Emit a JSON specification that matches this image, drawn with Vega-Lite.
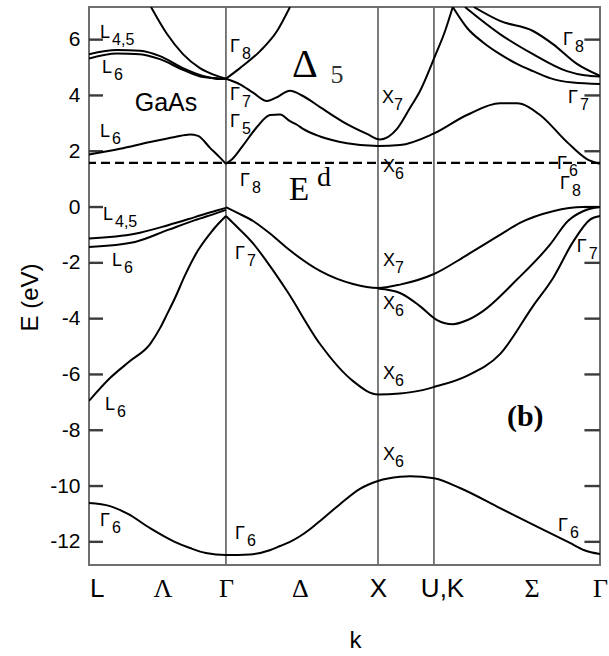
{
  "$schema": "https://vega.github.io/schema/vega-lite/v6.json",
  "width": 511,
  "height": 558,
  "autosize": {"type": "none"},
  "padding": {"left": 89, "top": 7, "right": 9, "bottom": 91},
  "background": "white",
  "config": {"view": {"stroke": "#6e6e6e", "strokeWidth": 2}, "axis": {"grid": false}},
  "resolve": {"axis": {"x": "independent", "y": "independent"}},
  "datasets": {
    "kpoints": [{"k": 0.879}, {"k": 1.855}, {"k": 2.214}],
    "ed": [{"E": 1.58}],
    "ticks": [
      {"t": "l-12", "k": 0, "E": -12}, {"t": "l-12", "k": 0.09, "E": -12},
      {"t": "l-10", "k": 0, "E": -10}, {"t": "l-10", "k": 0.09, "E": -10},
      {"t": "l-8", "k": 0, "E": -8}, {"t": "l-8", "k": 0.09, "E": -8},
      {"t": "l-6", "k": 0, "E": -6}, {"t": "l-6", "k": 0.09, "E": -6},
      {"t": "l-4", "k": 0, "E": -4}, {"t": "l-4", "k": 0.09, "E": -4},
      {"t": "l-2", "k": 0, "E": -2}, {"t": "l-2", "k": 0.09, "E": -2},
      {"t": "l0", "k": 0, "E": 0}, {"t": "l0", "k": 0.09, "E": 0},
      {"t": "l2", "k": 0, "E": 2}, {"t": "l2", "k": 0.09, "E": 2},
      {"t": "l4", "k": 0, "E": 4}, {"t": "l4", "k": 0.09, "E": 4},
      {"t": "l6", "k": 0, "E": 6}, {"t": "l6", "k": 0.09, "E": 6},
      {"t": "r-12", "k": 3.18, "E": -12}, {"t": "r-12", "k": 3.28, "E": -12},
      {"t": "r-10", "k": 3.18, "E": -10}, {"t": "r-10", "k": 3.28, "E": -10},
      {"t": "r-8", "k": 3.18, "E": -8}, {"t": "r-8", "k": 3.28, "E": -8},
      {"t": "r-6", "k": 3.18, "E": -6}, {"t": "r-6", "k": 3.28, "E": -6},
      {"t": "r-4", "k": 3.18, "E": -4}, {"t": "r-4", "k": 3.28, "E": -4},
      {"t": "r-2", "k": 3.18, "E": -2}, {"t": "r-2", "k": 3.28, "E": -2},
      {"t": "r0", "k": 3.18, "E": 0}, {"t": "r0", "k": 3.28, "E": 0},
      {"t": "r2", "k": 3.18, "E": 2}, {"t": "r2", "k": 3.28, "E": 2},
      {"t": "r4", "k": 3.18, "E": 4}, {"t": "r4", "k": 3.28, "E": 4},
      {"t": "r6", "k": 3.18, "E": 6}, {"t": "r6", "k": 3.28, "E": 6}
    ],
    "bands": [
      {"band": "b1", "k": 0, "E": -10.61}, {"band": "b1", "k": 0.135, "E": -10.72}, {"band": "b1", "k": 0.25, "E": -11.0}, {"band": "b1", "k": 0.392, "E": -11.51}, {"band": "b1", "k": 0.55, "E": -12.0}, {"band": "b1", "k": 0.648, "E": -12.22}, {"band": "b1", "k": 0.75, "E": -12.4}, {"band": "b1", "k": 0.879, "E": -12.47}, {"band": "b1", "k": 1.033, "E": -12.45}, {"band": "b1", "k": 1.16, "E": -12.3}, {"band": "b1", "k": 1.226, "E": -12.15}, {"band": "b1", "k": 1.29, "E": -12.0}, {"band": "b1", "k": 1.354, "E": -11.8}, {"band": "b1", "k": 1.418, "E": -11.55}, {"band": "b1", "k": 1.483, "E": -11.25}, {"band": "b1", "k": 1.611, "E": -10.65}, {"band": "b1", "k": 1.739, "E": -10.1}, {"band": "b1", "k": 1.855, "E": -9.82}, {"band": "b1", "k": 1.996, "E": -9.67}, {"band": "b1", "k": 2.06, "E": -9.65}, {"band": "b1", "k": 2.214, "E": -9.72}, {"band": "b1", "k": 2.381, "E": -10.07}, {"band": "b1", "k": 2.638, "E": -10.79}, {"band": "b1", "k": 2.895, "E": -11.51}, {"band": "b1", "k": 3.087, "E": -12.04}, {"band": "b1", "k": 3.18, "E": -12.3}, {"band": "b1", "k": 3.28, "E": -12.44},

      {"band": "b2L", "k": 0, "E": -6.95}, {"band": "b2L", "k": 0.135, "E": -6.13}, {"band": "b2L", "k": 0.263, "E": -5.52}, {"band": "b2L", "k": 0.392, "E": -4.91}, {"band": "b2L", "k": 0.456, "E": -4.34}, {"band": "b2L", "k": 0.501, "E": -3.84}, {"band": "b2L", "k": 0.552, "E": -3.26}, {"band": "b2L", "k": 0.616, "E": -2.45}, {"band": "b2L", "k": 0.7, "E": -1.55}, {"band": "b2L", "k": 0.777, "E": -0.95}, {"band": "b2L", "k": 0.83, "E": -0.6}, {"band": "b2L", "k": 0.879, "E": -0.32},

      {"band": "b2R", "k": 0.879, "E": -0.32}, {"band": "b2R", "k": 0.93, "E": -0.6}, {"band": "b2R", "k": 1.053, "E": -1.3}, {"band": "b2R", "k": 1.16, "E": -2.1}, {"band": "b2R", "k": 1.271, "E": -3.01}, {"band": "b2R", "k": 1.483, "E": -4.91}, {"band": "b2R", "k": 1.695, "E": -6.24}, {"band": "b2R", "k": 1.855, "E": -6.72}, {"band": "b2R", "k": 1.996, "E": -6.68}, {"band": "b2R", "k": 2.124, "E": -6.58}, {"band": "b2R", "k": 2.214, "E": -6.45}, {"band": "b2R", "k": 2.426, "E": -6.05}, {"band": "b2R", "k": 2.638, "E": -5.27}, {"band": "b2R", "k": 2.85, "E": -3.55}, {"band": "b2R", "k": 2.978, "E": -2.55}, {"band": "b2R", "k": 3.107, "E": -1.25}, {"band": "b2R", "k": 3.216, "E": -0.45}, {"band": "b2R", "k": 3.28, "E": -0.32},

      {"band": "b3L", "k": 0, "E": -1.13}, {"band": "b3L", "k": 0.295, "E": -0.96}, {"band": "b3L", "k": 0.507, "E": -0.65}, {"band": "b3L", "k": 0.68, "E": -0.36}, {"band": "b3L", "k": 0.809, "E": -0.14}, {"band": "b3L", "k": 0.879, "E": -0.03},

      {"band": "b4L", "k": 0, "E": -1.43}, {"band": "b4L", "k": 0.295, "E": -1.25}, {"band": "b4L", "k": 0.507, "E": -0.82}, {"band": "b4L", "k": 0.68, "E": -0.47}, {"band": "b4L", "k": 0.828, "E": -0.2}, {"band": "b4L", "k": 0.879, "E": -0.1},

      {"band": "b3R", "k": 0.879, "E": 0}, {"band": "b3R", "k": 0.95, "E": -0.2}, {"band": "b3R", "k": 1.053, "E": -0.5}, {"band": "b3R", "k": 1.162, "E": -0.95}, {"band": "b3R", "k": 1.271, "E": -1.47}, {"band": "b3R", "k": 1.483, "E": -2.29}, {"band": "b3R", "k": 1.695, "E": -2.76}, {"band": "b3R", "k": 1.855, "E": -2.9}, {"band": "b3R", "k": 1.996, "E": -2.78}, {"band": "b3R", "k": 2.214, "E": -2.4}, {"band": "b3R", "k": 2.426, "E": -1.72}, {"band": "b3R", "k": 2.638, "E": -1.0}, {"band": "b3R", "k": 2.766, "E": -0.57}, {"band": "b3R", "k": 2.978, "E": -0.15}, {"band": "b3R", "k": 3.171, "E": 0}, {"band": "b3R", "k": 3.28, "E": 0},

      {"band": "b5R", "k": 1.855, "E": -2.92}, {"band": "b5R", "k": 1.93, "E": -2.98}, {"band": "b5R", "k": 1.996, "E": -3.08}, {"band": "b5R", "k": 2.124, "E": -3.55}, {"band": "b5R", "k": 2.234, "E": -4.05}, {"band": "b5R", "k": 2.336, "E": -4.2}, {"band": "b5R", "k": 2.43, "E": -4.05}, {"band": "b5R", "k": 2.529, "E": -3.73}, {"band": "b5R", "k": 2.747, "E": -2.6}, {"band": "b5R", "k": 2.959, "E": -1.35}, {"band": "b5R", "k": 3.074, "E": -0.5}, {"band": "b5R", "k": 3.171, "E": -0.15}, {"band": "b5R", "k": 3.28, "E": 0},

      {"band": "c1L", "k": 0, "E": 1.88}, {"band": "c1L", "k": 0.199, "E": 2.09}, {"band": "c1L", "k": 0.392, "E": 2.33}, {"band": "c1L", "k": 0.552, "E": 2.51}, {"band": "c1L", "k": 0.648, "E": 2.6}, {"band": "c1L", "k": 0.7, "E": 2.55}, {"band": "c1L", "k": 0.777, "E": 2.12}, {"band": "c1L", "k": 0.841, "E": 1.77}, {"band": "c1L", "k": 0.879, "E": 1.55},

      {"band": "c1R", "k": 0.879, "E": 1.55}, {"band": "c1R", "k": 0.92, "E": 1.72}, {"band": "c1R", "k": 0.988, "E": 2.2}, {"band": "c1R", "k": 1.078, "E": 2.87}, {"band": "c1R", "k": 1.162, "E": 3.3}, {"band": "c1R", "k": 1.226, "E": 3.32}, {"band": "c1R", "k": 1.29, "E": 3.08}, {"band": "c1R", "k": 1.335, "E": 2.95}, {"band": "c1R", "k": 1.374, "E": 2.8}, {"band": "c1R", "k": 1.483, "E": 2.53}, {"band": "c1R", "k": 1.656, "E": 2.29}, {"band": "c1R", "k": 1.855, "E": 2.19}, {"band": "c1R", "k": 1.996, "E": 2.22}, {"band": "c1R", "k": 2.208, "E": 2.62}, {"band": "c1R", "k": 2.426, "E": 3.3}, {"band": "c1R", "k": 2.638, "E": 3.72}, {"band": "c1R", "k": 2.747, "E": 3.72}, {"band": "c1R", "k": 2.895, "E": 3.3}, {"band": "c1R", "k": 3.068, "E": 2.33}, {"band": "c1R", "k": 3.196, "E": 1.72}, {"band": "c1R", "k": 3.28, "E": 1.55},

      {"band": "c2", "k": 0.879, "E": 4.6}, {"band": "c2", "k": 0.969, "E": 4.4}, {"band": "c2", "k": 1.053, "E": 4.1}, {"band": "c2", "k": 1.142, "E": 3.8}, {"band": "c2", "k": 1.2, "E": 3.92}, {"band": "c2", "k": 1.29, "E": 4.17}, {"band": "c2", "k": 1.374, "E": 3.98}, {"band": "c2", "k": 1.483, "E": 3.58}, {"band": "c2", "k": 1.656, "E": 2.97}, {"band": "c2", "k": 1.784, "E": 2.62}, {"band": "c2", "k": 1.868, "E": 2.42}, {"band": "c2", "k": 1.977, "E": 2.8}, {"band": "c2", "k": 2.06, "E": 3.55}, {"band": "c2", "k": 2.124, "E": 4.15}, {"band": "c2", "k": 2.22, "E": 5.4}, {"band": "c2", "k": 2.285, "E": 6.3}, {"band": "c2", "k": 2.335, "E": 7.17},

      {"band": "cA", "k": 2.335, "E": 7.17}, {"band": "cA", "k": 2.43, "E": 6.4}, {"band": "cA", "k": 2.53, "E": 5.9}, {"band": "cA", "k": 2.638, "E": 5.48}, {"band": "cA", "k": 2.747, "E": 5.13}, {"band": "cA", "k": 2.85, "E": 4.87}, {"band": "cA", "k": 2.959, "E": 4.62}, {"band": "cA", "k": 3.107, "E": 4.46}, {"band": "cA", "k": 3.28, "E": 4.41},

      {"band": "cB", "k": 2.413, "E": 7.17}, {"band": "cB", "k": 2.638, "E": 6.2}, {"band": "cB", "k": 2.85, "E": 5.48}, {"band": "cB", "k": 3.068, "E": 4.87}, {"band": "cB", "k": 3.18, "E": 4.72}, {"band": "cB", "k": 3.28, "E": 4.68},

      {"band": "cC", "k": 2.47, "E": 7.17}, {"band": "cC", "k": 2.638, "E": 6.67}, {"band": "cC", "k": 2.85, "E": 6.31}, {"band": "cC", "k": 2.978, "E": 5.84}, {"band": "cC", "k": 3.132, "E": 5.13}, {"band": "cC", "k": 3.28, "E": 4.7},

      {"band": "cD", "k": 0.879, "E": 4.6}, {"band": "cD", "k": 0.969, "E": 4.98}, {"band": "cD", "k": 1.098, "E": 5.59}, {"band": "cD", "k": 1.207, "E": 6.31}, {"band": "cD", "k": 1.29, "E": 7.17},

      {"band": "cE", "k": 0.398, "E": 7.17}, {"band": "cE", "k": 0.501, "E": 6.2}, {"band": "cE", "k": 0.603, "E": 5.48}, {"band": "cE", "k": 0.712, "E": 4.98}, {"band": "cE", "k": 0.822, "E": 4.7}, {"band": "cE", "k": 0.879, "E": 4.6},

      {"band": "cF", "k": 0, "E": 5.48}, {"band": "cF", "k": 0.18, "E": 5.63}, {"band": "cF", "k": 0.327, "E": 5.6}, {"band": "cF", "k": 0.456, "E": 5.41}, {"band": "cF", "k": 0.603, "E": 4.98}, {"band": "cF", "k": 0.732, "E": 4.7}, {"band": "cF", "k": 0.841, "E": 4.59}, {"band": "cF", "k": 0.879, "E": 4.6},

      {"band": "cG", "k": 0, "E": 5.32}, {"band": "cG", "k": 0.18, "E": 5.5}, {"band": "cG", "k": 0.327, "E": 5.48}, {"band": "cG", "k": 0.456, "E": 5.3}, {"band": "cG", "k": 0.603, "E": 4.92}, {"band": "cG", "k": 0.732, "E": 4.66}, {"band": "cG", "k": 0.879, "E": 4.6}
    ],
    "labels": [
      {"k": 0.071, "E": 6.24, "main": "L", "sub": "4,5"},
      {"k": 0.083, "E": 4.98, "main": "L", "sub": "6"},
      {"k": 0.071, "E": 2.69, "main": "L", "sub": "6"},
      {"k": 0.09, "E": -0.29, "main": "L", "sub": "4,5"},
      {"k": 0.148, "E": -1.94, "main": "L", "sub": "6"},
      {"k": 0.103, "E": -7.1, "main": "L", "sub": "6"},
      {"k": 0.071, "E": -11.25, "main": "Γ", "sub": "6"},
      {"k": 0.937, "E": -11.72, "main": "Γ", "sub": "6"},
      {"k": 1.887, "E": -8.89, "main": "X", "sub": "6"},
      {"k": 3.01, "E": -11.43, "main": "Γ", "sub": "6"},
      {"k": 3.13, "E": -1.43, "main": "Γ", "sub": "7"},
      {"k": 1.887, "E": -1.94, "main": "X", "sub": "7"},
      {"k": 1.887, "E": -3.48, "main": "X", "sub": "6"},
      {"k": 1.887, "E": -5.99, "main": "X", "sub": "6"},
      {"k": 0.937, "E": -1.68, "main": "Γ", "sub": "7"},
      {"k": 0.905, "E": 5.73, "main": "Γ", "sub": "8"},
      {"k": 0.905, "E": 4.03, "main": "Γ", "sub": "7"},
      {"k": 0.905, "E": 3.05, "main": "Γ", "sub": "5"},
      {"k": 0.969, "E": 0.93, "main": "Γ", "sub": "8"},
      {"k": 1.88, "E": 3.91, "main": "X", "sub": "7"},
      {"k": 1.887, "E": 1.43, "main": "X", "sub": "6"},
      {"k": 3.042, "E": 5.99, "main": "Γ", "sub": "8"},
      {"k": 3.074, "E": 3.91, "main": "Γ", "sub": "7"},
      {"k": 3.004, "E": 1.54, "main": "Γ", "sub": "6"},
      {"k": 3.023, "E": 0.82, "main": "Γ", "sub": "8"}
    ]
  },
  "layer": [
    {
      "data": {"name": "kpoints"},
      "mark": {"type": "rule", "color": "#6e6e6e", "strokeWidth": 1.8},
      "encoding": {
        "x": {
          "field": "k", "type": "quantitative",
          "scale": {"domain": [0, 3.28], "nice": false, "zero": false},
          "axis": {
            "values": [0.05, 0.472, 0.879, 1.354, 1.855, 2.266, 2.84, 3.28],
            "labelExpr": "datum.value < 0.1 ? 'L' : datum.value < 0.6 ? 'Λ' : datum.value < 1 ? 'Γ' : datum.value < 1.5 ? 'Δ' : datum.value < 2 ? 'X' : datum.value < 2.5 ? 'U,K' : datum.value < 3 ? 'Σ' : 'Γ'",
            "ticks": false, "domain": false, "grid": false,
            "labelFontSize": 26,
            "labelFont": {"condition": {"test": "datum.value < 0.1 || (datum.value > 1.8 && datum.value < 2.5)", "value": "Liberation Sans"}, "value": "Liberation Serif"},
            "labelColor": "black", "labelPadding": 10, "labelAngle": 0,
            "labelOverlap": false, "labelFlush": false, "labelBound": false,
            "title": "k", "titleFont": "Liberation Sans", "titleFontSize": 24, "titleFontWeight": "normal", "titleColor": "black",
            "titleX": 266, "titleY": 75, "titleBaseline": "middle", "titleAlign": "center"
          }
        }
      }
    },
    {
      "data": {"name": "ed"},
      "mark": {"type": "rule", "color": "black", "strokeWidth": 2.2, "strokeDash": [9, 5]},
      "encoding": {
        "y": {"field": "E", "type": "quantitative", "axis": null}
      }
    },
    {
      "data": {"name": "ticks"},
      "mark": {"type": "line", "color": "#3c3c3c", "strokeWidth": 2.4, "interpolate": "linear"},
      "encoding": {
        "x": {"field": "k", "type": "quantitative", "axis": null},
        "y": {"field": "E", "type": "quantitative", "axis": null},
        "detail": {"field": "t", "type": "nominal"}
      }
    },
    {
      "data": {"name": "bands"},
      "mark": {"type": "line", "color": "black", "strokeWidth": 2, "interpolate": "monotone", "clip": true},
      "encoding": {
        "x": {"field": "k", "type": "quantitative", "axis": null},
        "y": {
          "field": "E", "type": "quantitative",
          "scale": {"domain": [-12.83, 7.17], "nice": false, "zero": false},
          "axis": {
            "orient": "left", "values": [-12, -10, -8, -6, -4, -2, 0, 2, 4, 6],
            "labelExpr": "datum.value + ''",
            "domain": false, "grid": false, "ticks": false,
            "labelPadding": 9, "labelFont": "Liberation Sans", "labelFontSize": 21, "labelColor": "black",
            "labelOverlap": false, "labelFlush": false,
            "title": "E (eV)", "titleFont": "Liberation Sans", "titleFontSize": 24, "titleFontWeight": "normal", "titleColor": "black",
            "titleX": -59, "titleY": 290, "titleAngle": -90, "titleBaseline": "middle", "titleAlign": "center"
          }
        },
        "detail": {"field": "band", "type": "nominal"}
      }
    },
    {
      "data": {"name": "labels"},
      "mark": {"type": "text", "align": "left", "baseline": "middle", "font": "Liberation Sans", "fontSize": 18, "color": "black"},
      "encoding": {
        "x": {"field": "k", "type": "quantitative", "axis": null},
        "y": {"field": "E", "type": "quantitative", "axis": null},
        "text": {"field": "main"}
      }
    },
    {
      "data": {"name": "labels"},
      "mark": {"type": "text", "align": "left", "baseline": "middle", "font": "Liberation Sans", "fontSize": 16, "color": "black", "dx": 12, "dy": 7},
      "encoding": {
        "x": {"field": "k", "type": "quantitative", "axis": null},
        "y": {"field": "E", "type": "quantitative", "axis": null},
        "text": {"field": "sub"}
      }
    },
    {
      "data": {"values": [{"k": 0.494, "E": 3.73, "t": "GaAs"}]},
      "mark": {"type": "text", "align": "center", "baseline": "middle", "font": "Liberation Sans", "fontSize": 25, "color": "black"},
      "encoding": {"x": {"field": "k", "type": "quantitative", "axis": null}, "y": {"field": "E", "type": "quantitative", "axis": null}, "text": {"field": "t"}}
    },
    {
      "data": {"values": [{"k": 1.386, "E": 5.09, "t": "Δ"}]},
      "mark": {"type": "text", "align": "center", "baseline": "middle", "font": "Liberation Serif", "fontSize": 40, "color": "black"},
      "encoding": {"x": {"field": "k", "type": "quantitative", "axis": null}, "y": {"field": "E", "type": "quantitative", "axis": null}, "text": {"field": "t"}}
    },
    {
      "data": {"values": [{"k": 1.592, "E": 4.73, "t": "5"}]},
      "mark": {"type": "text", "align": "center", "baseline": "middle", "font": "Liberation Serif", "fontSize": 26, "color": "#333333"},
      "encoding": {"x": {"field": "k", "type": "quantitative", "axis": null}, "y": {"field": "E", "type": "quantitative", "axis": null}, "text": {"field": "t"}}
    },
    {
      "data": {"values": [{"k": 1.348, "E": 0.61, "t": "E"}]},
      "mark": {"type": "text", "align": "center", "baseline": "middle", "font": "Liberation Serif", "fontSize": 33, "color": "black"},
      "encoding": {"x": {"field": "k", "type": "quantitative", "axis": null}, "y": {"field": "E", "type": "quantitative", "axis": null}, "text": {"field": "t"}}
    },
    {
      "data": {"values": [{"k": 1.508, "E": 1.04, "t": "d"}]},
      "mark": {"type": "text", "align": "center", "baseline": "middle", "font": "Liberation Serif", "fontSize": 28, "color": "black"},
      "encoding": {"x": {"field": "k", "type": "quantitative", "axis": null}, "y": {"field": "E", "type": "quantitative", "axis": null}, "text": {"field": "t"}}
    },
    {
      "data": {"values": [{"k": 2.8, "E": -7.53, "t": "(b)"}]},
      "mark": {"type": "text", "align": "center", "baseline": "middle", "font": "Liberation Serif", "fontSize": 30, "fontWeight": "bold", "color": "black"},
      "encoding": {"x": {"field": "k", "type": "quantitative", "axis": null}, "y": {"field": "E", "type": "quantitative", "axis": null}, "text": {"field": "t"}}
    }
  ]
}
